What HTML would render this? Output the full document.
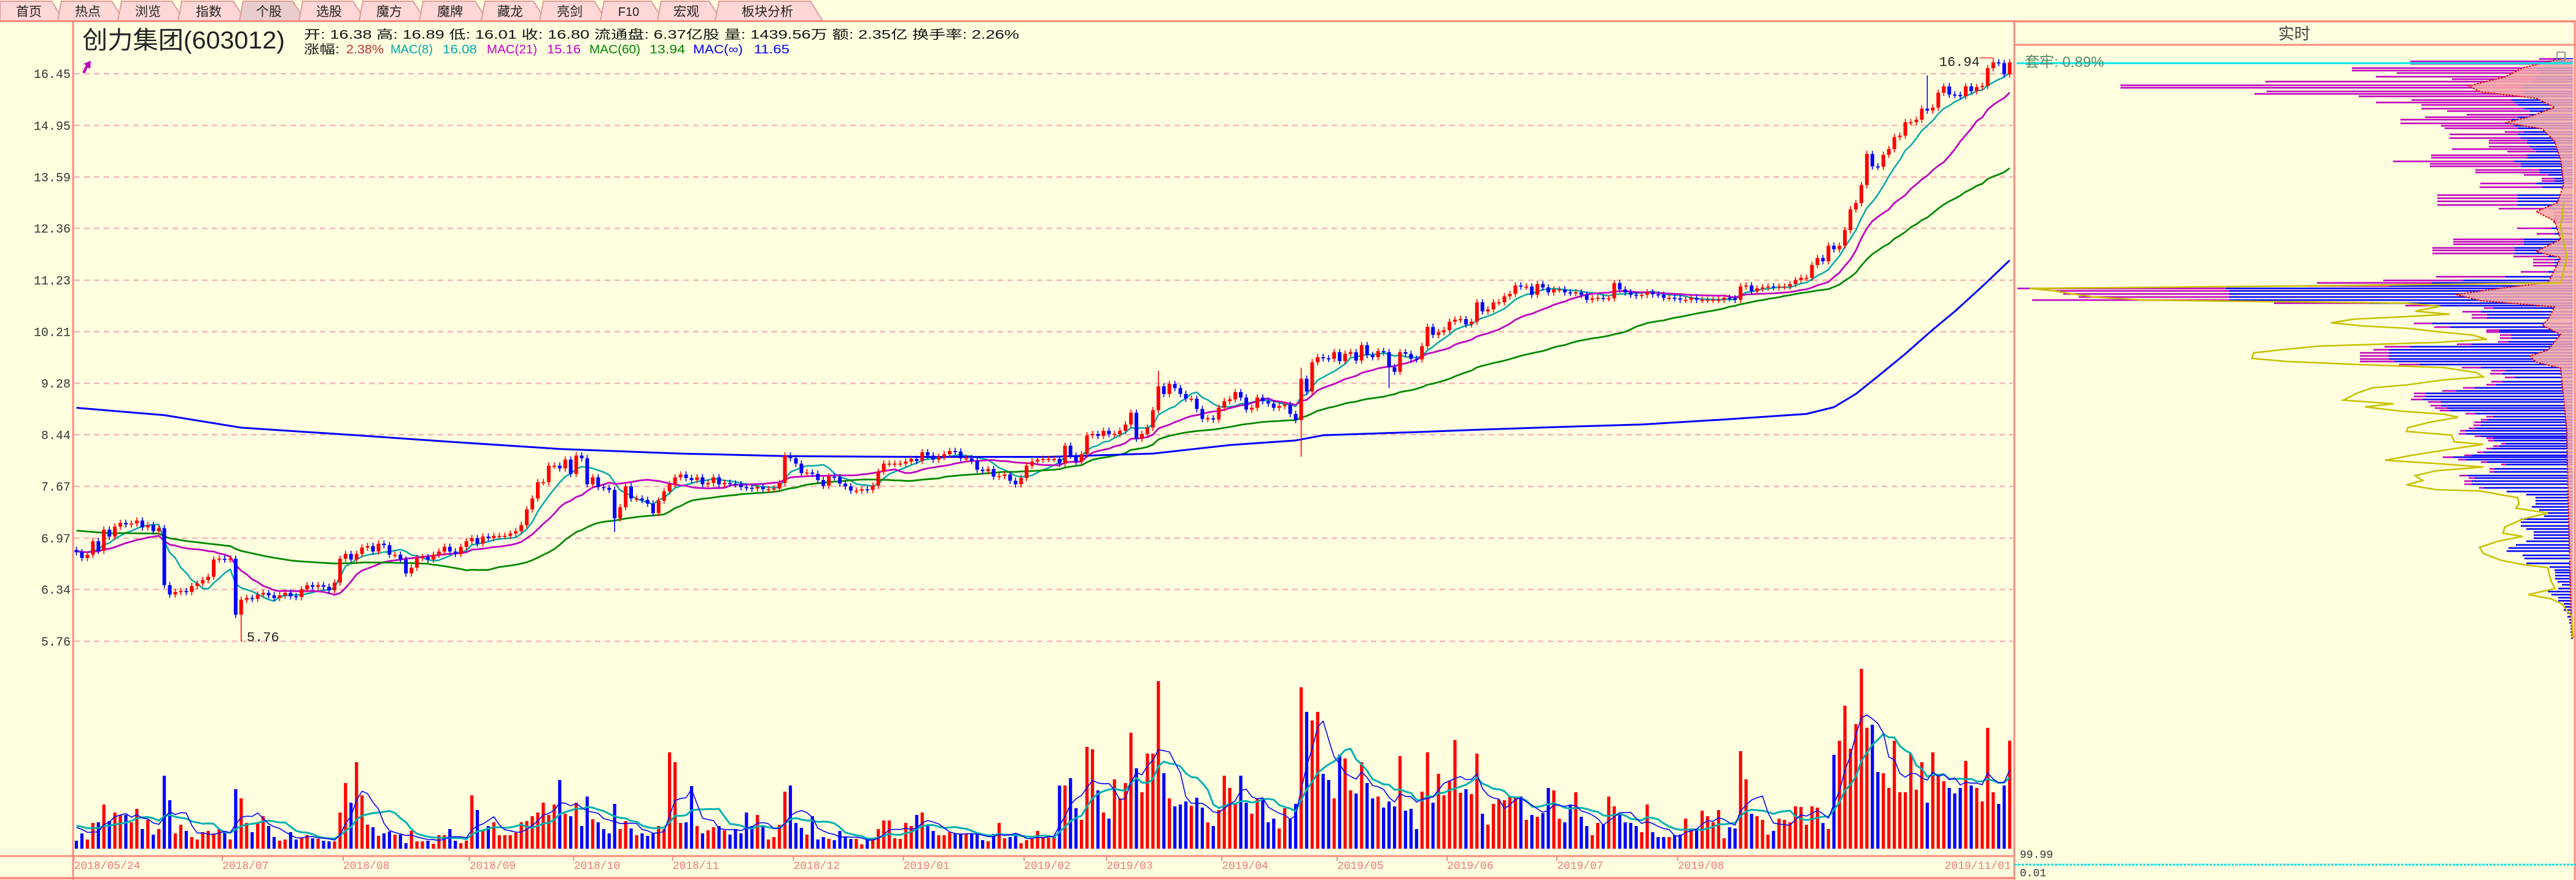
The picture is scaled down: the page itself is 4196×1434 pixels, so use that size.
<!DOCTYPE html>
<html><head><meta charset="utf-8">
<style>
html,body{margin:0;padding:0;background:#ffffe0;width:4196px;height:1434px;overflow:hidden}
svg{display:block}
text{font-family:"Liberation Sans","Noto Sans CJK SC",sans-serif}
.mono{font-family:"Liberation Mono","Noto Sans CJK SC",monospace}
</style></head>
<body>
<svg id="chart" xmlns="http://www.w3.org/2000/svg" width="4196" height="1434" viewBox="0 0 4196 1434">
  <rect x="0" y="0" width="4196" height="1434" fill="#ffffe0"/>
  <g id="tabs">
    <polygon points="0,34 0,2 84,2 104,34" fill="#ffd7d7" stroke="#e29a9a" stroke-width="2"/>
    <text x="47" y="26" font-size="21" text-anchor="middle" fill="#222">首页</text>
    <polygon points="94,34 100,2 182,2 202,34" fill="#ffd7d7" stroke="#e29a9a" stroke-width="2"/>
    <text x="143" y="26" font-size="21" text-anchor="middle" fill="#222">热点</text>
    <polygon points="192,34 198,2 280,2 300,34" fill="#ffd7d7" stroke="#e29a9a" stroke-width="2"/>
    <text x="241" y="26" font-size="21" text-anchor="middle" fill="#222">浏览</text>
    <polygon points="290,34 296,2 380,2 400,34" fill="#ffd7d7" stroke="#e29a9a" stroke-width="2"/>
    <text x="340" y="26" font-size="21" text-anchor="middle" fill="#222">指数</text>
    <polygon points="390,34 396,2 477,2 497,34" fill="#e9cccc" stroke="#e29a9a" stroke-width="2"/>
    <text x="438" y="26" font-size="21" text-anchor="middle" fill="#222">个股</text>
    <polygon points="487,34 493,2 575,2 595,34" fill="#ffd7d7" stroke="#e29a9a" stroke-width="2"/>
    <text x="536" y="26" font-size="21" text-anchor="middle" fill="#222">选股</text>
    <polygon points="585,34 591,2 673,2 693,34" fill="#ffd7d7" stroke="#e29a9a" stroke-width="2"/>
    <text x="634" y="26" font-size="21" text-anchor="middle" fill="#222">魔方</text>
    <polygon points="683,34 689,2 774,2 794,34" fill="#ffd7d7" stroke="#e29a9a" stroke-width="2"/>
    <text x="733" y="26" font-size="21" text-anchor="middle" fill="#222">魔牌</text>
    <polygon points="784,34 790,2 869,2 889,34" fill="#ffd7d7" stroke="#e29a9a" stroke-width="2"/>
    <text x="831" y="26" font-size="21" text-anchor="middle" fill="#222">藏龙</text>
    <polygon points="879,34 885,2 968,2 988,34" fill="#ffd7d7" stroke="#e29a9a" stroke-width="2"/>
    <text x="928" y="26" font-size="21" text-anchor="middle" fill="#222">亮剑</text>
    <polygon points="978,34 984,2 1061,2 1081,34" fill="#ffd7d7" stroke="#e29a9a" stroke-width="2"/>
    <text x="1024" y="26" font-size="20" text-anchor="middle" fill="#222">F10</text>
    <polygon points="1071,34 1077,2 1155,2 1175,34" fill="#ffd7d7" stroke="#e29a9a" stroke-width="2"/>
    <text x="1118" y="26" font-size="21" text-anchor="middle" fill="#222">宏观</text>
    <polygon points="1165,34 1171,2 1320,2 1340,34" fill="#ffd7d7" stroke="#e29a9a" stroke-width="2"/>
    <text x="1250" y="26" font-size="21" text-anchor="middle" fill="#222">板块分析</text>
  </g>
  <line x1="0" y1="34.5" x2="4196" y2="34.5" stroke="#ff8a80" stroke-width="3"/>

  <text x="134" y="79" font-size="40" fill="#222" textLength="330" lengthAdjust="spacingAndGlyphs">创力集团(603012)</text>
  <text x="495" y="63" font-size="20" fill="#111" textLength="1165" lengthAdjust="spacingAndGlyphs">开: 16.38 高: 16.89 低: 16.01 收: 16.80 流通盘: 6.37亿股 量: 1439.56万 额: 2.35亿 换手率: 2.26%</text>
  <g>
    <text x="495" y="87" font-size="20" fill="#111" textLength="58" lengthAdjust="spacingAndGlyphs">涨幅:</text>
    <text x="564" y="87" font-size="20" fill="#c03030" textLength="61" lengthAdjust="spacingAndGlyphs">2.38%</text>
    <text x="636" y="87" font-size="20" fill="#00a8a8" textLength="69" lengthAdjust="spacingAndGlyphs">MAC(8)</text>
    <text x="721" y="87" font-size="20" fill="#00a8a8" textLength="56" lengthAdjust="spacingAndGlyphs">16.08</text>
    <text x="793" y="87" font-size="20" fill="#c000c0" textLength="82" lengthAdjust="spacingAndGlyphs">MAC(21)</text>
    <text x="891" y="87" font-size="20" fill="#c000c0" textLength="55" lengthAdjust="spacingAndGlyphs">15.16</text>
    <text x="960" y="87" font-size="20" fill="#008800" textLength="83" lengthAdjust="spacingAndGlyphs">MAC(60)</text>
    <text x="1058" y="87" font-size="20" fill="#008800" textLength="58" lengthAdjust="spacingAndGlyphs">13.94</text>
    <text x="1129" y="87" font-size="20" fill="#0000ff" textLength="81" lengthAdjust="spacingAndGlyphs">MAC(∞)</text>
    <text x="1228" y="87" font-size="20" fill="#0000ff" textLength="58" lengthAdjust="spacingAndGlyphs">11.65</text>
  </g>
  <polygon points="134,118 140,106 136,104 148,99 147,112 143,110 138,120" fill="#c000c0"/>

  <g id="grid"></g>
  <g id="yaxis"></g>
  <g id="malines"></g>
  <g id="candles"></g>
  <g id="vol"></g>
  <g id="volma"></g>
  <g id="xaxis"></g>
  <g id="chips"></g>

  <line x1="119" y1="35" x2="119" y2="1434" stroke="#ff8a80" stroke-width="3"/>
  <line x1="3281" y1="35" x2="3281" y2="1434" stroke="#ff8a80" stroke-width="3"/>
  <line x1="0" y1="1395" x2="3281" y2="1395" stroke="#ff8a80" stroke-width="3"/>
  <line x1="0" y1="1431" x2="3281" y2="1431" stroke="#ff8a80" stroke-width="4"/>
  <rect x="3281" y="35" width="913" height="38" fill="#ffffe0" stroke="#ff8a80" stroke-width="3"/>
  <text x="3737" y="64" font-size="26" text-anchor="middle" fill="#444">实时</text>
  <line x1="4194" y1="35" x2="4194" y2="1434" stroke="#ff8a80" stroke-width="3"/>
  <line x1="3285" y1="103" x2="4191" y2="103" stroke="#00e8e8" stroke-width="3"/>
  <text x="3298" y="109" font-size="24" fill="#5a8a6a">套牢: 0.89%</text>
  <rect x="4165" y="85" width="13" height="14" fill="none" stroke="#999" stroke-width="2"/>
  <text x="3290" y="1398" font-size="18" fill="#333" class="mono">99.99</text>
  <line x1="3281" y1="1409" x2="4196" y2="1409" stroke="#00e0e0" stroke-width="3" stroke-dasharray="4 2"/>
  <text x="3290" y="1428" font-size="18" fill="#333" class="mono">0.01</text>
</svg>
<script>
const tickVals=[16.45,14.95,13.59,12.36,11.23,10.21,9.28,8.44,7.67,6.97,6.34,5.76];
const closes=[
6.79,6.72,6.76,6.93,6.81,7.08,6.99,7.12,7.17,7.15,7.16,7.2,7.11,7.14,7.06,7.1,6.39,
6.28,6.31,6.32,6.31,6.38,6.41,6.45,6.49,6.7,6.71,6.7,6.71,6.05,
6.22,6.24,6.23,6.28,6.3,6.27,6.24,6.27,6.3,6.26,6.25,6.34,6.39,6.37,6.39,6.37,6.33,6.42,
6.71,6.77,6.7,6.77,6.85,6.87,6.8,6.9,6.88,6.76,
6.76,6.7,6.53,6.6,6.72,6.73,6.7,6.76,6.8,6.86,
6.8,6.77,6.86,6.93,6.97,6.9,6.99,6.97,7.0,7.0,
7.0,7.03,7.06,7.14,7.35,7.5,7.73,7.73,7.97,
7.97,7.93,8.06,7.85,8.12,8.08,7.7,7.8,7.66,7.65,
7.62,7.23,7.38,7.67,7.5,7.5,7.48,7.43,7.3,7.47,
7.6,7.7,7.8,7.84,7.79,7.76,7.8,7.7,7.72,7.8,
7.7,7.72,7.71,7.7,7.66,7.65,7.64,7.66,7.63,7.63,
7.64,7.72,8.12,8.08,8.0,7.86,7.87,7.85,7.76,7.68,
7.81,7.8,7.71,7.67,7.61,7.61,7.63,7.62,7.68,7.88,
8.0,8.0,8.0,8.0,8.03,8.07,8.04,8.17,8.12,8.06,
8.1,8.14,8.19,8.18,8.08,8.08,8.04,7.91,7.89,7.92,
7.81,7.82,7.84,7.75,7.7,7.79,7.97,8.03,8.06,
8.07,8.07,8.07,8.0,8.27,8.12,8.03,8.14,8.43,8.45,
8.42,8.5,8.45,8.45,8.5,8.6,8.79,8.38,8.45,8.55,
8.83,9.23,9.1,9.27,9.2,9.1,9.02,9.02,8.85,8.69,
8.7,8.68,8.87,8.98,9.01,9.13,9.04,8.84,8.87,9.04,
8.98,8.94,8.87,8.9,8.92,8.77,8.67,9.36,9.14,9.65,
9.74,9.72,9.71,9.83,9.67,9.8,9.83,9.68,9.96,9.78,
9.74,9.85,9.83,9.56,9.48,9.83,9.8,9.71,9.7,9.94,
10.3,10.15,10.2,10.24,10.4,10.44,10.45,10.35,10.4,10.78,
10.6,10.64,10.78,10.78,10.9,10.95,11.12,11.1,11.1,
10.93,11.15,11.08,10.98,11.04,11.04,10.98,10.97,10.98,10.93,
10.83,10.86,10.87,10.86,10.86,11.17,11.04,10.98,10.93,10.91,
10.93,10.98,10.94,10.93,10.87,10.87,10.86,10.83,10.83,10.87,
10.83,10.83,10.83,10.83,10.83,10.87,10.86,10.83,11.1,11.12,
11.0,11.06,11.08,11.1,11.08,11.1,11.1,11.15,11.23,11.28,
11.28,11.55,11.7,11.63,11.97,11.89,11.97,12.32,12.8,12.95,
13.39,14.18,13.86,13.85,14.16,14.31,14.63,14.67,15.04,15.04,
15.11,15.42,15.37,15.45,15.88,16.07,15.83,15.82,15.78,16.07,
15.93,16.05,16.08,16.62,16.8,16.78,16.43,16.8];
const volumes=[
13,25,15,42,43,72,45,59,55,55,43,65,32,47,23,32,119,79,25,39,
29,19,15,27,29,25,32,29,15,97,82,42,27,43,53,37,19,13,15,27,
15,18,22,17,16,13,12,12,59,107,75,141,87,39,35,21,25,28,23,23,
9,29,12,12,13,8,22,22,32,13,9,13,87,63,30,37,43,22,22,22,
26,43,45,53,59,75,55,72,112,57,53,75,37,85,48,43,32,25,73,32,
45,33,22,25,21,25,37,32,157,141,42,43,102,37,25,30,35,37,30,23,
32,25,59,37,55,37,15,19,39,93,103,42,34,23,53,15,19,16,14,29,
19,16,16,7,14,16,32,46,46,17,16,42,37,55,59,37,29,22,22,27,
24,24,24,24,24,14,12,24,42,17,19,24,9,14,17,29,19,
18,20,103,103,115,66,47,166,162,95,59,49,113,82,107,189,131,92,155,155,273,
123,82,69,72,77,70,83,67,43,37,63,119,99,73,119,75,57,82,82,43,
49,33,66,49,73,263,223,209,223,122,112,82,153,147,95,90,141,107,82,85,
67,77,69,151,62,65,32,93,157,75,122,87,111,177,91,97,89,155,57,39,
73,80,79,85,85,85,47,55,52,58,99,95,49,43,71,92,52,37,22,42,
40,85,69,57,43,42,37,27,72,27,19,19,19,22,23,49,33,32,62,53,
43,63,17,35,33,159,113,57,53,47,23,29,49,47,43,69,68,39,69,67,
42,32,153,176,233,163,203,293,197,202,125,123,99,176,92,92,155,96,141,75,
157,121,110,99,90,99,143,103,99,77,197,92,73,103,176];
const priorCloses=[7.1,7.2,7.3,7.25,7.2,7.3,7.35,7.2,7.15,7.2,7.25,7.3,7.2,7.1,7.15,7.2,7.3,7.25,7.2,7.15,
7.2,7.25,7.2,7.1,7.15,7.2,7.25,7.3,7.2,7.1,7.15,7.2,7.25,7.2,7.1,7.15,7.2,7.3,7.2,7.1,
6.9,6.85,6.8,6.75,6.8,6.85,6.8,6.75,6.7,6.8,6.85,6.8,6.75,6.8,6.85,6.8,6.75,6.8,6.85,6.8];
const priorVol=40;
const firstOpen=6.82;
const highIdx=[197,223,337,349];
const highVal=[9.5,9.55,16.4,16.94];
const lowIdx=[30,98,223,239];
const lowVal=[5.76,7.05,8.1,9.2];
const blueIdx=[0,16,30,51,68,88,110,130,153,177,196,210,222,227,244,256,270,285,300,315,320,324,328,333,338,342,347,352];
const blueVal=[8.87,8.75,8.55,8.43,8.33,8.22,8.15,8.11,8.1,8.1,8.15,8.28,8.35,8.43,8.48,8.52,8.56,8.6,8.68,8.77,8.88,9.1,9.4,9.8,10.25,10.6,11.1,11.65];
const dateIdx=[0,27,49,72,91,109,131,151,173,188,209,230,250,270,292];
const dateLabels=['2018/05/24','2018/07','2018/08','2018/09','2018/10','2018/11','2018/12','2019/01','2019/02','2019/03','2019/04','2019/05','2019/06','2019/07','2019/08'];
const lastDateLabel='2019/11/01';
const chipY=[96,100,104,111,115,119,125,129,133,139,143,149,153,157,163,167,171,177,181,187,191,195,201,205,209,215,219,225,229,233,239,243,247,253,257,263,267,271,277,281,285,291,295,299,
305,318,323,328,334,340,346,352,357,362,372,381,390,394,398,404,408,413,418,423,428,433,443,451,457,461,466,470,474,479,484,489,494,498,502,508,513,518,527,533,538,541,546,551,557,561,565,570,575,580,585,589,594,599,604,609,615,622,627,632,637,641,646,651,655,661,665,669,674,679,684,688,693,698,702,707,711,714,718,723,727,731,737,742,745,749,753,757,764,769,775,779,784,789,795,801,806,811,816,821,826,831,836,841,846,851,857,862,867,872,877,882,888,893,898,905,910,918,924,929,933,938,943,948,953,959,964,969,974,979,984,989,994,999,1005,1010,1015,1020,1025,1030,1035,1040];
const chipLen=[55,265,265,360,360,287,321,197,501,737,737,499,519,349,263,321,247,247,205,173,241,281,281,215,209,111,201,201,137,137,137,197,107,231,231,293,233,233,159,159,80,51,51,151,
152,221,221,221,221,121,32,32,32,32,91,59,195,195,195,229,229,229,97,65,65,65,85,223,309,417,437,905,843,830,805,881,487,273,145,180,165,165,259,226,141,141,119,119,122,189,307,325,347,347,347,347,283,181,133,135,111,133,141,179,213,259,259,264,236,232,225,217,175,141,150,161,162,170,184,186,160,141,138,117,130,141,156,177,212,187,150,117,136,136,185,170,177,177,153,108,76,61,61,61,67,55,44,47,85,85,85,76,64,64,64,76,93,105,108,82,79,76,38,30,29,29,29,25,18,24,41,35,24,24,15,15,15,9,9,6,6,4,4,4,3,3];
const chipBlue=[30,40,40,60,60,55,60,60,70,80,80,80,80,80,100,95,90,80,70,70,90,100,110,95,90,80,90,85,75,75,70,65,60,75,75,95,85,85,55,55,40,30,30,60,
50,90,90,90,90,40,20,20,20,20,35,30,80,80,80,95,95,95,40,30,30,30,40,110,180,230,300,565,560,560,560,560,330,230,130,150,140,140,230,200,120,120,100,100,105,165,265,300,300,300,300,290,250,150,110,115,95,115,125,160,190,240,240,245,215,215,205,200,160,130,140,150,150,160,175,175,150,130,128,110,120,132,145,165,195,175,140,110,128,128,172,160,165,165,145,108,76,61,61,61,67,55,44,47,85,85,85,76,64,64,64,76,93,105,108,82,79,76,38,30,29,29,29,25,18,24,41,35,24,24,15,15,15,9,9,6,6,4,4,4,3,3];
const pinkY=[96,110,125,140,150,160,175,190,200,210,230,260,300,330,345,360,390,400,410,420,460,470,480,490,500,520,530,545,570,580,590,600,650,700,800,1040];
const pinkW=[20,80,110,170,150,60,30,70,110,50,30,20,15,25,60,30,20,40,60,20,40,120,190,150,30,40,50,20,40,70,60,20,15,10,8,2];
const yelY=[330,370,420,461,466,470,474,479,484,489,494,499,507,512,517,520,526,531,535,541,546,553,558,564,570,575,584,589,594,599,607,614,619,627,632,640,652,658,663,670,675,680,688,697,703,709,720,724,731,742,750,755,761,767,775,783,790,798,800,811,821,828,836,846,859,869,874,882,892,902,913,920,925,938,948,959,969,976,984,1004,1040];
const yelLen=[15,20,10,20,440,885,845,815,780,700,274,216,257,201,292,356,394,344,269,216,163,140,222,414,476,520,523,467,350,210,158,146,210,269,327,350,374,292,339,280,210,187,233,269,271,198,193,146,193,263,306,228,146,222,257,245,271,222,152,90,88,93,41,82,111,114,82,122,152,146,117,82,41,38,35,29,73,35,18,2,0];

const NS='http://www.w3.org/2000/svg';
const N=Math.min(closes.length,volumes.length);
const X0=120,X1=3278;
const W=(X1-X0)/N;
function xc(i){return X0+(i+0.5)*W;}
function yp(p){return 1045-84*Math.log(p/5.76)/Math.log(1.1);}
const VBASE=1383;
function yv(v){return VBASE-v*1.0;}
function mk(tag,attrs,parent){const e=document.createElementNS(NS,tag);for(const k in attrs)e.setAttribute(k,attrs[k]);parent.appendChild(e);return e;}

const gGrid=document.getElementById('grid'),gY=document.getElementById('yaxis');
tickVals.forEach(v=>{
  const y=yp(v);
  const gl=mk('line',{x1:121,y1:y,x2:3279,y2:y,stroke:'#f6b6b6','stroke-width':2.5,'stroke-dasharray':'9 7'},gGrid);
  
  
  const tk=mk('line',{x1:121,y1:y,x2:128,y2:y,stroke:'#f6b6b6','stroke-width':2},gY);
  
  
  const t=mk('text',{x:115,y:y+7,'font-size':20,'text-anchor':'end',fill:'#333',class:'mono'},gY);
  t.textContent=v.toFixed(2);
  
  
});

const opens=[],highs=[],lows=[];
for(let i=0;i<N;i++){
  const o=i?closes[i-1]:firstOpen,c=closes[i];
  opens.push(o);highs.push(Math.max(o,c)*1.006);lows.push(Math.min(o,c)*0.994);
}
highIdx.forEach((k,j)=>{if(k<N)highs[k]=highVal[j];});
lowIdx.forEach((k,j)=>{if(k<N)lows[k]=lowVal[j];});

const gC=document.getElementById('candles');
for(let i=0;i<N;i++){
  const o=opens[i],c=closes[i],up=c>=o,col=up?'#ff0000':'#0000ff',x=xc(i);
  const wk=mk('line',{x1:x,y1:yp(highs[i]),x2:x,y2:yp(lows[i]),stroke:col,'stroke-width':1.6},gC);
  
  
  const yt=yp(Math.max(o,c)),yb=yp(Math.min(o,c));
  const bd=mk('rect',{x:x-3,y:yt,width:6,height:Math.max(1.8,yb-yt),fill:col},gC);
  
  
}

function cAt(k){return k>=0?closes[k]:priorCloses[priorCloses.length+k];}
function vAt(k){return k>=0?volumes[k]:priorVol;}
function vwma(n,i){let s=0,sv=0;for(let k=i-n+1;k<=i;k++){const v=vAt(k);s+=cAt(k)*v;sv+=v;}return s/sv;}
const gM=document.getElementById('malines');
function poly(pts,color,w,name,parent){
  const p=mk('polyline',{points:pts.map(q=>q[0].toFixed(1)+','+q[1].toFixed(1)).join(' '),fill:'none',stroke:color,'stroke-width':w,'stroke-linejoin':'round'},parent);
  return p;
}
[[8,'#00a8a8',2.5,'mac8-line'],[21,'#c000c0',2.8,'mac21-line'],[60,'#008800',2.8,'mac60-line']].forEach(d=>{
  const pts=[];for(let i=0;i<N;i++)pts.push([xc(i),yp(vwma(d[0],i))]);
  const pl=poly(pts,d[1],d[2],d[3],gM);
  
  
});
{
  const pts=blueIdx.map((k,j)=>[xc(k),yp(blueVal[j])]);
  const pl=poly(pts,'#0000ff',3,'macinf-line',gM);
  
  
}

{
  let hi=0,lo=0;for(let i=0;i<N;i++){if(highs[i]>highs[hi])hi=i;if(lows[i]<lows[lo])lo=i;}
  const yh=yp(highs[hi]);
  const hl=mk('line',{x1:xc(hi)-22,y1:yh,x2:xc(hi),y2:yh,stroke:'#ff6060','stroke-width':2},gC);
  
  
  const ht=mk('text',{x:xc(hi)-22,y:yh+13,'font-size':22,'text-anchor':'end',fill:'#222',class:'mono'},gC);
  ht.textContent=highs[hi].toFixed(2);
  
  
  const yl=yp(lows[lo]);
  const lt=mk('text',{x:xc(lo)+9,y:yl,'font-size':22,fill:'#222',class:'mono'},gC);
  lt.textContent=lows[lo].toFixed(2);
  
  
}

const gV=document.getElementById('vol');
for(let i=0;i<N;i++){
  const up=closes[i]>=opens[i];
  const r=mk('rect',{x:xc(i)-2.6,y:yv(volumes[i]),width:5.2,height:VBASE-yv(volumes[i]),fill:up?'#ff0000':'#0000ff'},gV);
  
  
}
const gVM=document.getElementById('volma');
function sma(n,i){let s=0;for(let k=i-n+1;k<=i;k++)s+=vAt(k);return s/n;}
[[10,'#00b0b0',3,'volume-ma10-line'],[5,'#0000ff',1.6,'volume-ma5-line']].forEach(d=>{
  const pts=[];for(let i=0;i<N;i++)pts.push([xc(i),yv(sma(d[0],i))]);
  const pl=poly(pts,d[1],d[2],d[3],gVM);
  
  
});

const gX=document.getElementById('xaxis');
dateIdx.forEach((k,j)=>{
  const x=xc(k)-4;
  const tk=mk('line',{x1:x,y1:1396,x2:x,y2:1403,stroke:'#f08a8a','stroke-width':2},gX);
  
  
  const t=mk('text',{x:x,y:1416,'font-size':18,fill:'#f07878',class:'mono'},gX);
  t.textContent=dateLabels[j];
  
  
});
{
  const t=mk('text',{x:xc(N-1)+2,y:1416,'font-size':18,'text-anchor':'end',fill:'#f07878',class:'mono'},gX);
  t.textContent=lastDateLabel;
  
  
}

const gP=document.getElementById('chips');
const RX=4191;
for(let j=0;j<chipY.length;j++){
  const y=chipY[j],L=chipLen[j],B=Math.min(chipBlue[j],L);
  if(L>B){
    const m=mk('rect',{x:RX-L,y:y-1.3,width:L-B,height:2.6,fill:'#c000c0'},gP);
    
    
  }
  const b=mk('rect',{x:RX-B,y:y-1.3,width:B,height:2.6,fill:'#0000ff'},gP);
  
  
}
{
  let pts=pinkY.map((y,j)=>[RX-pinkW[j],y]);
  const all=pts.concat([[RX,pinkY[pinkY.length-1]],[RX,pinkY[0]]]);
  const pg=mk('polygon',{points:all.map(q=>q[0]+','+q[1]).join(' '),fill:'#f5a8a8','fill-opacity':0.85},gP);
  
  
  const pl=poly(pts,'#e00000',2,'chip-recent-outline',gP);
  pl.setAttribute('stroke-dasharray','3 2');
  
  
  const yl=poly(yelY.map((y,j)=>[RX-yelLen[j],y]),'#c8c000',2.6,'chip-history-outline',gP);
  yl.setAttribute('stroke-linejoin','miter');
  
  
}
</script>
</body></html>
